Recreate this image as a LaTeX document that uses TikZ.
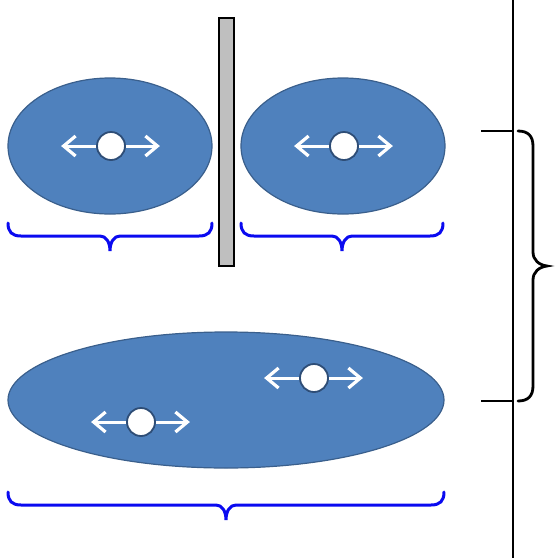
\documentclass[tikz,border=0pt]{standalone}
\usetikzlibrary{arrows.meta,shapes.geometric}
\definecolor{blobfill}{HTML}{4F81BD}
\definecolor{blobline}{HTML}{3A5F8C}
\definecolor{dotline}{HTML}{2E4D76}
\definecolor{braceblue}{HTML}{0A0AF0}
\newcommand{\myubrace}[4]{% xl, xr, ytop, xmid
  \draw[bluebrace] (#1,#3) .. controls (#1,{#3+9}) and ({#1+4},{#3+13}) .. ({#1+13},{#3+13})
    -- ({#4-10},{#3+13}) .. controls ({#4-4},{#3+13}) and (#4,{#3+19}) .. (#4,{#3+28})
    .. controls (#4,{#3+19}) and ({#4+4},{#3+13}) .. ({#4+10},{#3+13})
    -- ({#2-13},{#3+13}) .. controls ({#2-4},{#3+13}) and (#2,{#3+9}) .. (#2,#3);}
\tikzset{
  blob/.style={ellipse, fill=blobfill, draw=blobline, line width=1.2pt, inner sep=0pt},
  barrier/.style={rectangle, fill=black!25, draw=black, line width=2pt, inner sep=0pt},
  moverdot/.style={circle, fill=white, draw=dotline, line width=1.8pt, minimum size=28pt, inner sep=0pt},
  moverarrow/.style={white, line width=3pt, -{Straight Barb[length=12pt,width=20pt,line width=3.2pt]}},
  bluebrace/.style={braceblue, line width=3pt, line cap=round},
  blackline/.style={black, line width=2pt},
  blackbrace/.style={black, line width=2.8pt, line cap=round},
  mover/.pic={
    \node[moverdot] (-c) {};
    \draw[moverarrow] (-c.west) -- ++(-35,0);
    \draw[moverarrow] (-c.east) -- ++(34,0);
  }
}
\begin{document}
\begin{tikzpicture}[x=1pt,y=-1pt]
\useasboundingbox (0,0) rectangle (556,558);
\node[blob, minimum width=204pt, minimum height=136pt] (e1) at (110,146) {};
\node[blob, minimum width=204pt, minimum height=136pt] (e2) at (343,146) {};
\node[blob, minimum width=436pt, minimum height=136pt] (e3) at (226,400) {};
\node[barrier, minimum width=15pt, minimum height=248pt] (bar) at (226,142) {};
\pic (m1) at (111,146) {mover};
\pic (m2) at (344,146) {mover};
\pic (m3) at (314,378) {mover};
\pic (m4) at (141,422) {mover};
\myubrace{8}{212}{223}{110}
\myubrace{241}{443}{223}{342}
\myubrace{8}{444}{492}{226}
\coordinate (axtop) at (513,0);
\coordinate (axbot) at (513,558);
\draw[blackline] (axtop) -- (axbot);
\coordinate (t1) at (481,131);
\coordinate (t2) at (481,401);
\draw[blackline] (t1) -- (t1 -| axtop);
\draw[blackline] (t2) -- (t2 -| axtop);
\draw[blackbrace] (518,131) .. controls (528,131) and (533,136) .. (533,146)
  -- (533,252) .. controls (533,260) and (539,265) .. (547,266)
  .. controls (539,267) and (533,272) .. (533,280)
  -- (533,386) .. controls (533,396) and (528,401) .. (518,401);
\end{tikzpicture}
\end{document}
